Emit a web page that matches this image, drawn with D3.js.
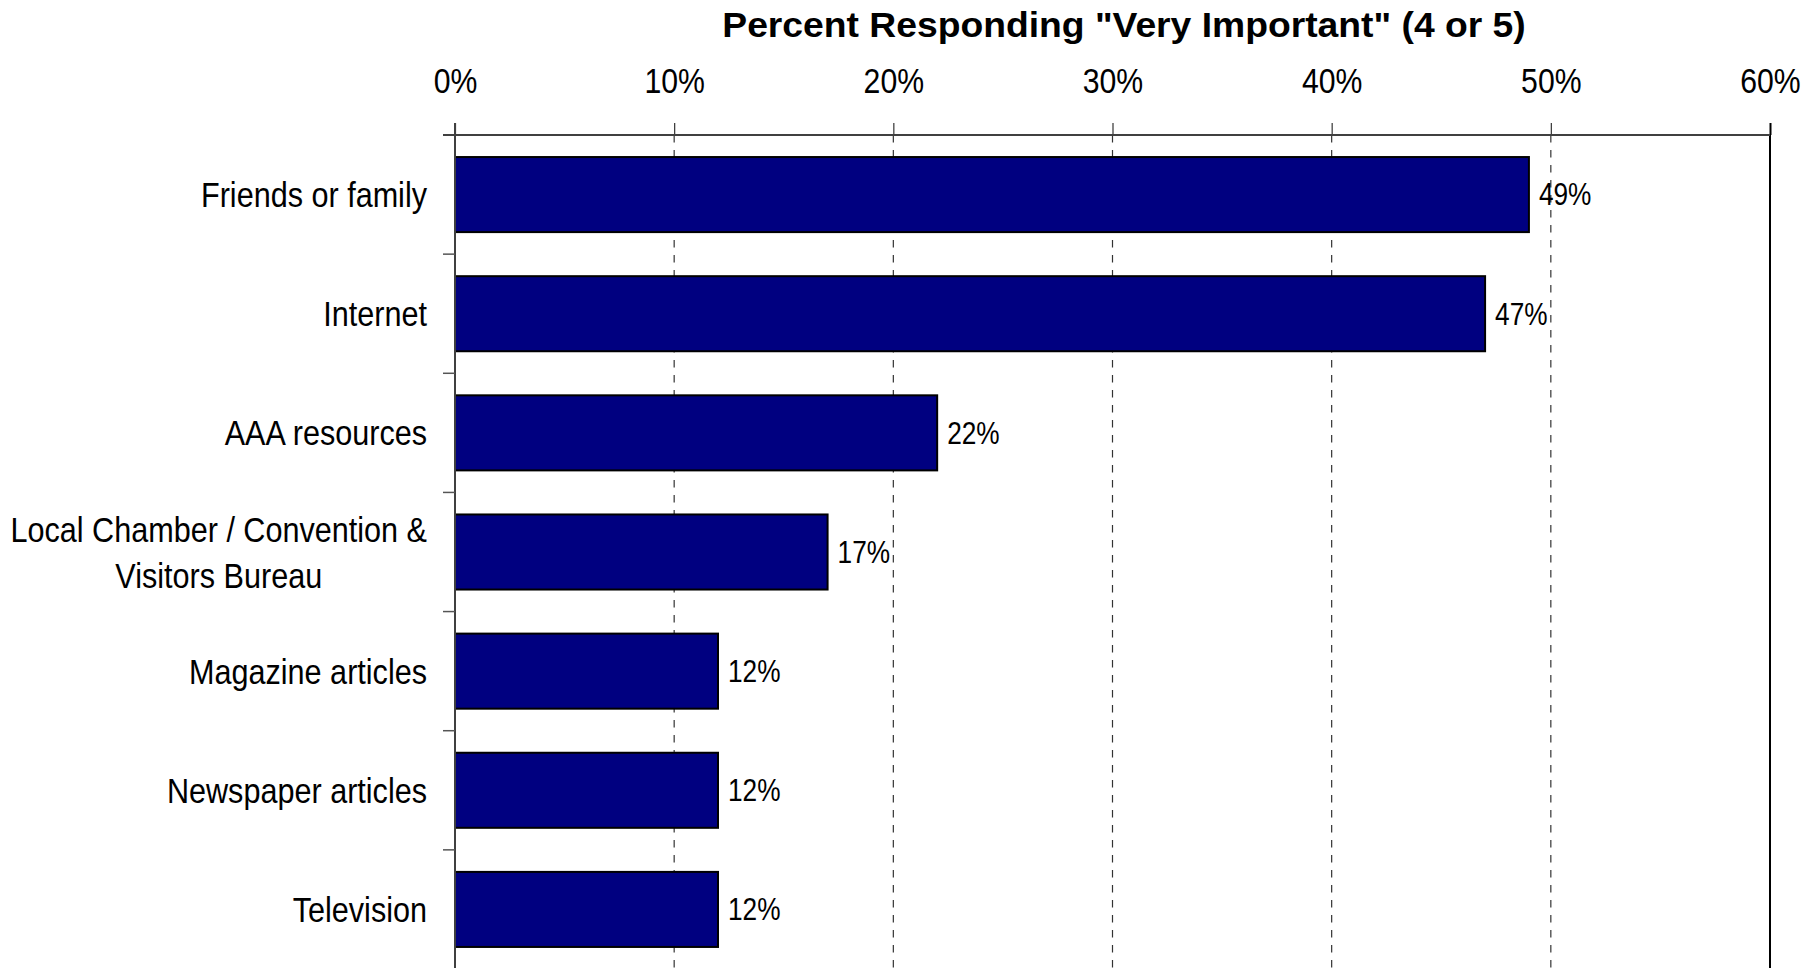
<!DOCTYPE html>
<html>
<head>
<meta charset="utf-8">
<script src="https://cdn.jsdelivr.net/npm/d3@7"></script>
<style>
  html, body { margin: 0; padding: 0; background: #fff; }
  svg { display: block; }
  text { font-family: "Liberation Sans", Arial, sans-serif; }
</style>
</head>
<body>
<svg id="chart" width="1820" height="968"></svg>
<script>
// Information sources rated "very important"
const categories = [
  "Friends or family",
  "Internet",
  "AAA resources",
  "Local Chamber / Convention &\nVisitors Bureau",
  "Magazine articles",
  "Newspaper articles",
  "Television"
];
const values = [0.49, 0.47, 0.22, 0.17, 0.12, 0.12, 0.12];
const tickValues = [0, 0.1, 0.2, 0.3, 0.4, 0.5, 0.6];
const titleText = 'Percent Responding "Very Important" (4 or 5)';

const svg = d3.select("#chart");
const plotLeft = 455, plotRight = 1770, plotTop = 135, plotBottom = 969;

const x = d3.scaleLinear().domain([0, 0.6]).range([plotLeft, plotRight]);
const y = d3.scaleBand().domain(categories).range([plotTop, plotBottom])
  .paddingInner(0.37).paddingOuter(0.185);
const step = y.step();
const pct = d3.format(".0%");

// Condensed look: horizontal squeeze of the sans face
const catSquash = 0.85, tickSquash = 0.84, valueSquash = 0.82;

// Title
svg.append("text")
  .attr("transform", "translate(1124,37) scale(1.065,1)")
  .attr("text-anchor", "middle")
  .attr("font-weight", "bold")
  .attr("font-size", 35)
  .attr("fill", "#000")
  .text(titleText);

// Vertical gridlines (dashed), last one solid as the plot border
svg.append("g").selectAll("line")
  .data(tickValues.filter(d => d > 0))
  .join("line")
  .attr("x1", d => x(d)).attr("x2", d => x(d))
  .attr("y1", plotTop).attr("y2", plotBottom)
  .attr("stroke", d => d === 0.6 ? "#000" : "#333")
  .attr("stroke-width", d => d === 0.6 ? 2 : 1.2)
  .attr("stroke-dasharray", d => d === 0.6 ? null : "7.5,7.5");

// Top axis with outward ticks
const xAxis = d3.axisTop(x).tickValues(tickValues).tickFormat(pct)
  .tickSize(12).tickPadding(30);
const gx = svg.append("g").attr("transform", `translate(0,${plotTop})`).call(xAxis);
gx.select(".domain").remove();
gx.selectAll(".tick line").attr("stroke", "#333").attr("stroke-width", 1.2);
gx.selectAll(".tick text")
  .attr("font-family", "'Liberation Sans', Arial, sans-serif")
  .attr("font-size", 36)
  .attr("fill", "#000")
  .attr("transform", `scale(${tickSquash},1)`);
gx.selectAll(".tick").filter(d => d === 0.6).select("line").attr("stroke", "#000").attr("stroke-width", 2);
svg.append("line")
  .attr("x1", plotLeft - 12).attr("x2", plotRight)
  .attr("y1", plotTop).attr("y2", plotTop)
  .attr("stroke", "#404040").attr("stroke-width", 2);

// Bars
svg.append("g").selectAll("rect")
  .data(categories)
  .join("rect")
  .attr("x", x(0))
  .attr("y", d => y(d))
  .attr("width", (d, i) => x(values[i]) - x(0))
  .attr("height", y.bandwidth())
  .attr("fill", "#000080")
  .attr("stroke", "#000")
  .attr("stroke-width", 2);

// Left axis line and band separator ticks
svg.append("line")
  .attr("x1", plotLeft).attr("x2", plotLeft)
  .attr("y1", plotTop - 12).attr("y2", plotBottom)
  .attr("stroke", "#404040").attr("stroke-width", 2);
svg.append("g").selectAll("line")
  .data(categories.slice(1))
  .join("line")
  .attr("x1", plotLeft - 12).attr("x2", plotLeft)
  .attr("y1", d => y(d) - step * y.paddingInner() / 2)
  .attr("y2", d => y(d) - step * y.paddingInner() / 2)
  .attr("stroke", "#555").attr("stroke-width", 1.5);

// Category labels (right-aligned block, multi-line lines centred to each other)
const labelRight = 427;
const lineGap = 46;
const catG = svg.append("g");
categories.forEach(c => {
  const lines = c.split("\n");
  const cy = y(c) + y.bandwidth() / 2;
  const t = catG.append("text")
    .attr("transform", `translate(${labelRight},0) scale(${catSquash},1)`)
    .attr("font-size", 36)
    .attr("fill", "#000");
  const spans = lines.map((ln, j) => t.append("tspan")
    .attr("y", cy + (j - (lines.length - 1) / 2) * lineGap)
    .attr("dy", "0.35em")
    .text(ln));
  if (lines.length === 1) {
    t.attr("text-anchor", "end");
    spans[0].attr("x", 0);
  } else {
    const maxW = d3.max(spans, s => s.node().getComputedTextLength());
    t.attr("text-anchor", "middle");
    spans.forEach(s => s.attr("x", -maxW / 2));
  }
});

// Value labels
svg.append("g").selectAll("text")
  .data(categories)
  .join("text")
  .attr("transform", (d, i) => `translate(${x(values[i]) + 10},${y(d) + y.bandwidth() / 2}) scale(${valueSquash},1)`)
  .attr("dy", "0.34em")
  .attr("font-size", 32)
  .attr("fill", "#000")
  .text((d, i) => pct(values[i]));
</script>
</body>
</html>
